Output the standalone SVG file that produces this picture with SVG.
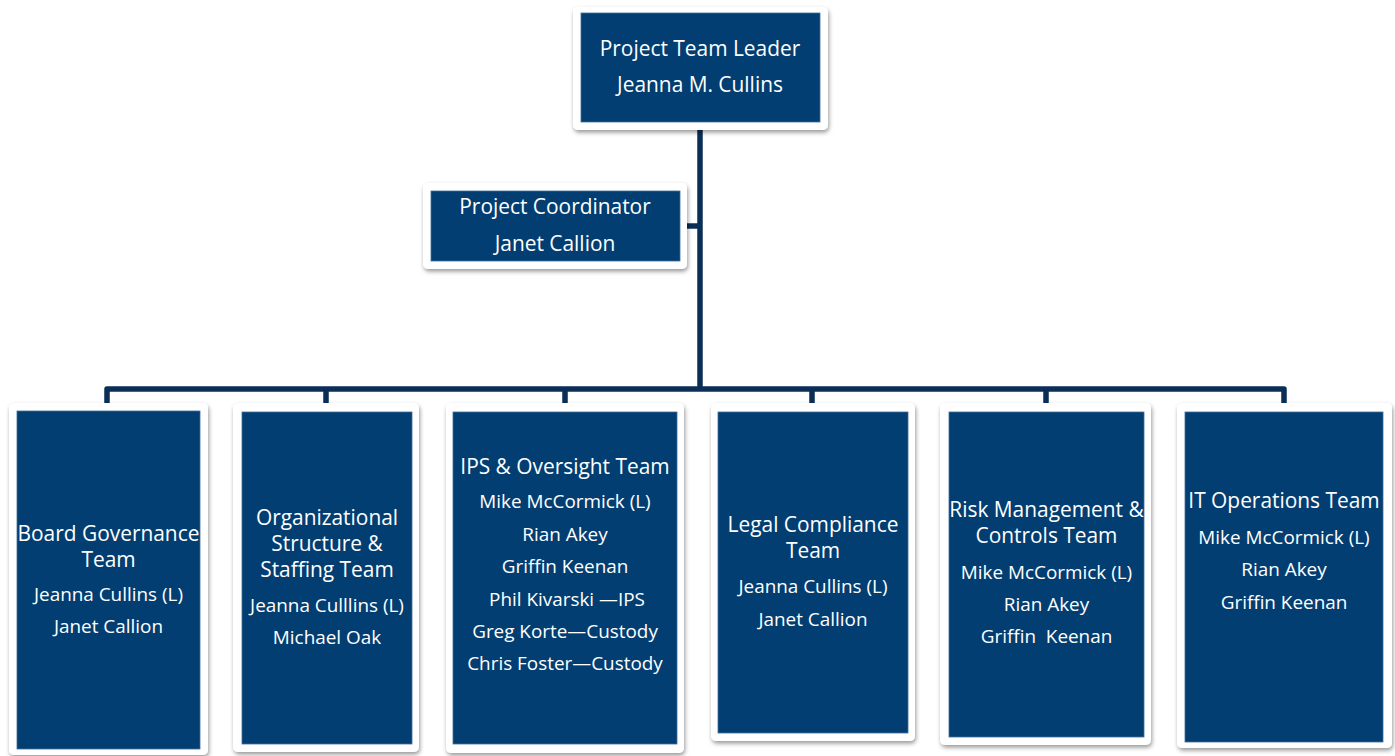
<svg xmlns="http://www.w3.org/2000/svg" width="1395" height="756" viewBox="0 0 1395 756">
<defs>
<filter id="sh" x="-10%" y="-10%" width="125%" height="125%">
<feDropShadow dx="1" dy="2.5" stdDeviation="2.2" flood-color="#000" flood-opacity="0.4"/>
</filter>
</defs>
<style>
.frame{fill:#ffffff;filter:url(#sh)}
.inner{fill:#023e71;stroke:#3f6f9c;stroke-width:0.8}
.conn{fill:none;stroke:#0b2e57;stroke-width:5.5;stroke-linejoin:round}
text{font-family:"Open Sans","Noto Sans","Liberation Sans",sans-serif;fill:#ffffff;text-anchor:middle}
.t{font-size:20.9px}
.m{font-size:18.9px}
</style>
<rect width="1395" height="756" fill="#ffffff"/>
<g id="connectors">
<path class="conn" d="M700,122 V389"/>
<path class="conn" d="M680,226 H700"/>
<path class="conn" d="M107,403 V389 H1284 V403"/>
<path class="conn" d="M326,389 V403 M565,389 V403 M812,389 V403 M1046,389 V403"/>
</g>
<g id="leader">
<rect class="frame" x="573" y="7" width="255" height="123" rx="5"/>
<rect class="inner" x="581" y="13" width="239" height="109"/>
<text class="t" x="700" y="56">Project Team Leader</text>
<text class="t" x="700" y="92">Jeanna M. Cullins</text>
</g>
<g id="coordinator">
<rect class="frame" x="423" y="183" width="264" height="86" rx="5"/>
<rect class="inner" x="431" y="191" width="249" height="70"/>
<text class="t" x="555" y="214">Project Coordinator</text>
<text class="t" x="555" y="251">Janet Callion</text>
</g>
<g id="board">
<rect class="frame" x="9" y="403" width="199" height="352" rx="5"/>
<rect class="inner" x="17" y="411" width="183" height="338"/>
<text class="t" x="108.5" y="541">Board Governance</text>
<text class="t" x="108.5" y="567">Team</text>
<text class="m" x="108.5" y="601">Jeanna Cullins (L)</text>
<text class="m" x="108.5" y="633">Janet Callion</text>
</g>
<g id="org">
<rect class="frame" x="233" y="403" width="186" height="349" rx="5"/>
<rect class="inner" x="242" y="412" width="170" height="332"/>
<text class="t" x="327" y="525">Organizational</text>
<text class="t" x="327" y="551">Structure &amp;</text>
<text class="t" x="327" y="577">Staffing Team</text>
<text class="m" x="327" y="612">Jeanna Culllins (L)</text>
<text class="m" x="327" y="644">Michael Oak</text>
</g>
<g id="ips">
<rect class="frame" x="446" y="403" width="238" height="350" rx="5"/>
<rect class="inner" x="453" y="412" width="224" height="332"/>
<text class="t" x="565" y="474">IPS &amp; Oversight Team</text>
<text class="m" x="565" y="508">Mike McCormick (L)</text>
<text class="m" x="565" y="541">Rian Akey</text>
<text class="m" x="565" y="573">Griffin Keenan</text>
<text class="m" x="567" y="606">Phil Kivarski —IPS</text>
<text class="m" x="565" y="638">Greg Korte—Custody</text>
<text class="m" x="565" y="670">Chris Foster—Custody</text>
</g>
<g id="legal">
<rect class="frame" x="711" y="403" width="204" height="338" rx="5"/>
<rect class="inner" x="718" y="412" width="190" height="321"/>
<text class="t" x="813" y="532">Legal Compliance</text>
<text class="t" x="813" y="558">Team</text>
<text class="m" x="813" y="593">Jeanna Cullins (L)</text>
<text class="m" x="813" y="626">Janet Callion</text>
</g>
<g id="risk">
<rect class="frame" x="940" y="403" width="211" height="342" rx="5"/>
<rect class="inner" x="949" y="412" width="195" height="325"/>
<text class="t" x="1046.5" y="517">Risk Management &amp;</text>
<text class="t" x="1046.5" y="543">Controls Team</text>
<text class="m" x="1046.5" y="579">Mike McCormick (L)</text>
<text class="m" x="1046.5" y="611">Rian Akey</text>
<text class="m" x="1046.5" y="643" xml:space="preserve">Griffin  Keenan</text>
</g>
<g id="it">
<rect class="frame" x="1177" y="403" width="215" height="345" rx="5"/>
<rect class="inner" x="1185" y="412" width="198" height="330"/>
<text class="t" x="1284" y="508">IT Operations Team</text>
<text class="m" x="1284" y="544">Mike McCormick (L)</text>
<text class="m" x="1284" y="576">Rian Akey</text>
<text class="m" x="1284" y="609">Griffin Keenan</text>
</g>
</svg>
